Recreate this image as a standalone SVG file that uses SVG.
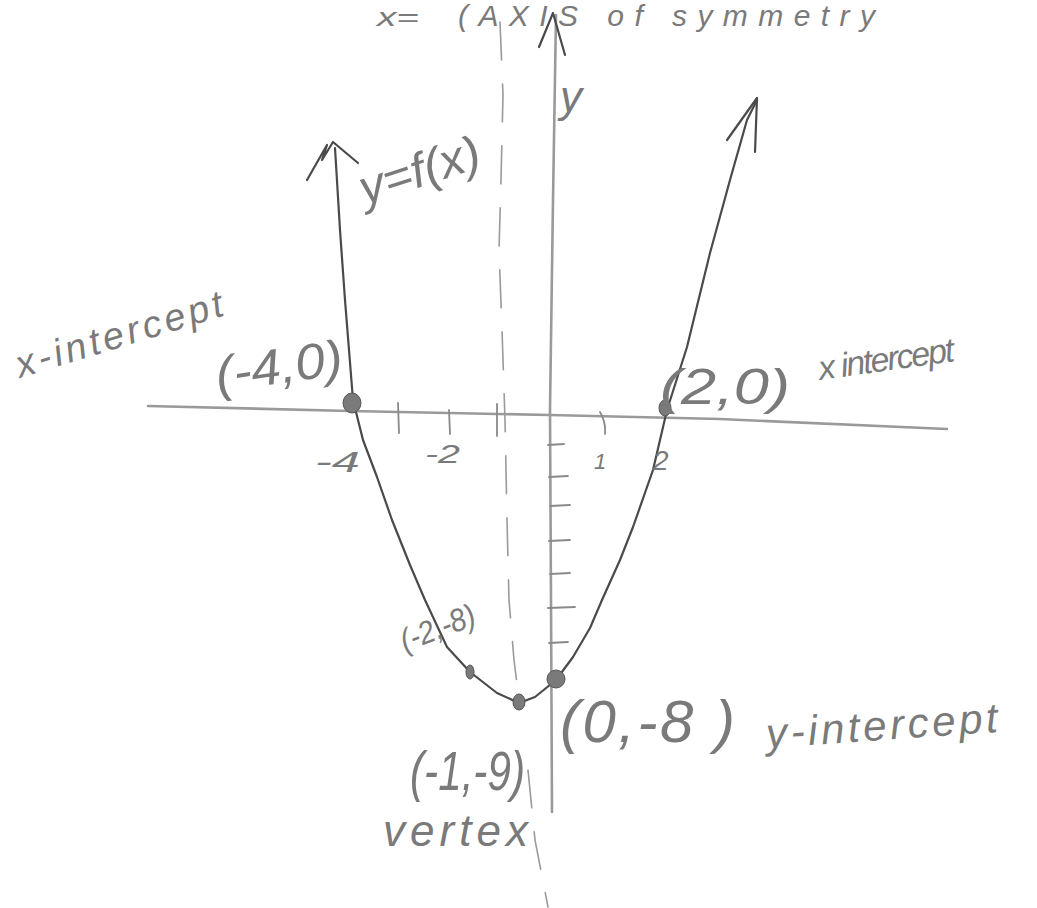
<svg xmlns="http://www.w3.org/2000/svg" width="1037" height="908" viewBox="0 0 1037 908">
<style>
.ax{fill:none;stroke:#9a9a9a;stroke-width:2.6;stroke-linecap:round;stroke-linejoin:round}
.cv{fill:none;stroke:#4a4a4a;stroke-width:2.2;stroke-linecap:round;stroke-linejoin:round}
.pen{fill:none;stroke:#8a8a8a;stroke-width:1.8;stroke-linecap:round}
.dash{fill:none;stroke:#9a9a9a;stroke-width:1.6;stroke-dasharray:38 24;stroke-linecap:round}
.t{font-family:"Liberation Sans","DejaVu Sans",sans-serif;font-style:italic;fill:#7a7a7a}
.dot{fill:#7a7a7a;stroke:#555;stroke-width:1}
</style>
<rect width="1037" height="908" fill="#ffffff"/>
<g id="axes">
<path class="ax" d="M148,406 L350,411 L550,415 L720,419 L947,429"/>
<path class="ax" d="M556,15 L553,200 L550,410 L551,600 L552,812" stroke="#7a7a7a"/>
<path class="cv" d="M539,47 L553,13 L565,55"/>
<path class="pen" d="M398,403 L399,433 M449,410 L450,434 M497,404 L497,436 M600,412 Q606,422 605,434"/>
<path class="pen" d="M548,445 L564,444 M549,477 L568,476 M550,506 L570,505 M549,541 L570,540 M550,574 L570,573 M548,608 L575,607 M549,643 L568,642"/>
</g>
<g id="symmetry">
<path class="dash" d="M500,22 L503,95 L501,180 L499,250 L502,330 L505,420 L507,520 L509,600 L514,660 L519,700"/>
<path class="dash" d="M528,770 L535,840 L548,907"/>
</g>
<g id="parabola">
<polyline class="cv" points="335,148 340,230 345,300 353,400 363,440 377,477 392,520 410,565 425,600 447,647 470,672 497,693 519,703 535,697 556,680 573,657 590,628 602,600 620,560 633,527 653,470 667,410 687,347 710,253 730,180 747,120 757,100"/>
<path class="cv" d="M307,180 L327,145 L322,160 L333,142 L358,163"/>
<path class="cv" d="M727,140 L757,98 L755,152"/>
</g>
<g id="points">
<ellipse class="dot" cx="352" cy="403" rx="9" ry="10"/>
<ellipse class="dot" cx="665" cy="408" rx="6" ry="8"/>
<ellipse class="dot" cx="470" cy="672" rx="4" ry="7"/>
<ellipse class="dot" cx="519" cy="702" rx="6" ry="8"/>
<ellipse class="dot" cx="556" cy="679" rx="9" ry="9" fill="#555"/>
</g>
<g id="labels">
<text class="t" x="377" y="26" font-size="26" textLength="42" lengthAdjust="spacingAndGlyphs">x=</text>
<text class="t" x="458" y="26" font-size="30" textLength="417" lengthAdjust="spacing">(AXIS of symmetry</text>
<text class="t" x="560" y="112" font-size="44">y</text>
<text class="t" x="365" y="205" font-size="48" textLength="125" lengthAdjust="spacingAndGlyphs" transform="rotate(-18 365 205)">y=f(x)</text>
<text class="t" x="20" y="378" font-size="38" textLength="215" lengthAdjust="spacing" transform="rotate(-17 20 378)">x-intercept</text>
<text class="t" x="218" y="392" font-size="50" textLength="128" lengthAdjust="spacingAndGlyphs" transform="rotate(-8 218 392)">(-4,0)</text>
<text class="t" x="660" y="404" font-size="50" textLength="130" lengthAdjust="spacingAndGlyphs">(2,0)</text>
<text class="t" x="820" y="380" font-size="34" textLength="137" lengthAdjust="spacing" transform="rotate(-8 820 380)">x intercept</text>
<text class="t" x="315" y="472" font-size="30" textLength="45" lengthAdjust="spacingAndGlyphs">-4</text>
<text class="t" x="425" y="463" font-size="26" textLength="35" lengthAdjust="spacingAndGlyphs">-2</text>
<text class="t" x="594" y="469" font-size="22">1</text>
<text class="t" x="653" y="470" font-size="28">2</text>
<text class="t" x="405" y="652" font-size="32" textLength="78" lengthAdjust="spacingAndGlyphs" transform="rotate(-21 405 652)">(-2,-8)</text>
<text class="t" x="410" y="790" font-size="56" textLength="115" lengthAdjust="spacingAndGlyphs">(-1,-9)</text>
<text class="t" x="383" y="846" font-size="44" textLength="145" lengthAdjust="spacing">vertex</text>
<text class="t" x="560" y="742" font-size="60" textLength="175" lengthAdjust="spacing">(0,-8 )</text>
<text class="t" x="767" y="748" font-size="42" textLength="232" lengthAdjust="spacing" transform="rotate(-4 767 748)">y-intercept</text>
</g>
</svg>
